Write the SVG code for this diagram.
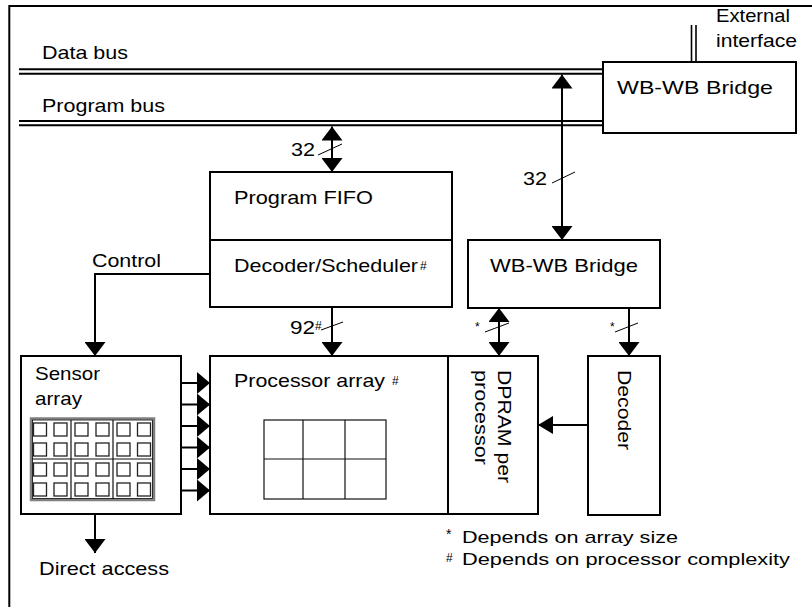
<svg xmlns="http://www.w3.org/2000/svg" width="812" height="607" viewBox="0 0 812 607">
  <defs>
    <style>
      .box { fill: #fff; stroke: #000; stroke-width: 2; }
      .bus { fill: none; stroke: #000; stroke-width: 2; }
      .wire { fill: none; stroke: #000; stroke-width: 2; }
      .slash { fill: none; stroke: #000; stroke-width: 1; }
      .thin { fill: none; stroke: #111; stroke-width: 1.2; }
      .cell { fill: #fff; stroke: #222; stroke-width: 1.3; }
      text { font-family: "Liberation Sans", Arial, sans-serif; fill: #000; }
      .lbl { font-size: 19px; }
      .foot { font-size: 17px; }
      .sup { font-size: 12px; }
    </style>
    <marker id="arr" viewBox="0 0 14 21" refX="14" refY="10.5" markerWidth="14" markerHeight="21" markerUnits="userSpaceOnUse" orient="auto-start-reverse">
      <path d="M0,0 L14,10.5 L0,21 Z" fill="#000"/>
    </marker>
    <marker id="arrS" viewBox="0 0 13 22" refX="13" refY="11" markerWidth="13" markerHeight="22" markerUnits="userSpaceOnUse" orient="auto">
      <path d="M0,0 L13,11 L0,22 Z" fill="#000"/>
    </marker>
    <marker id="arrH" viewBox="0 0 15 18" refX="15" refY="9" markerWidth="15" markerHeight="18" markerUnits="userSpaceOnUse" orient="auto">
      <path d="M0,0 L15,9 L0,18 Z" fill="#000"/>
    </marker>
  </defs>

  <!-- outer frame (open to the right and bottom) -->
  <path d="M9.3,607 V6 H812" fill="none" stroke="#000" stroke-width="2"/>

  <!-- buses -->
  <g id="buses">
    <line class="bus" x1="19" y1="69.3" x2="603" y2="69.3"/>
    <line class="bus" x1="19" y1="73.7" x2="603" y2="73.7"/>
    <line class="bus" x1="19" y1="121" x2="603" y2="121"/>
    <line class="bus" x1="19" y1="125.3" x2="603" y2="125.3"/>
    <text class="lbl" x="42" y="59" textLength="86" lengthAdjust="spacingAndGlyphs">Data bus</text>
    <text class="lbl" x="42" y="112" textLength="123" lengthAdjust="spacingAndGlyphs">Program bus</text>
  </g>

  <!-- external interface -->
  <g id="external">
    <line x1="691.5" y1="25" x2="691.5" y2="62" stroke="#000" stroke-width="1.6"/>
    <line x1="696" y1="25" x2="696" y2="62" stroke="#000" stroke-width="1.6"/>
    <text class="lbl" x="716" y="22" textLength="74" lengthAdjust="spacingAndGlyphs">External</text>
    <text class="lbl" x="716" y="47" textLength="81" lengthAdjust="spacingAndGlyphs">interface</text>
  </g>

  <g id="bridge-top">
    <rect class="box" x="603" y="62" width="193" height="71"/>
    <text class="lbl" x="617" y="94" textLength="156" lengthAdjust="spacingAndGlyphs">WB-WB Bridge</text>
  </g>

  <g id="program-fifo">
    <rect class="box" x="210" y="172" width="242" height="135"/>
    <line x1="210" y1="240" x2="452" y2="240" stroke="#000" stroke-width="2"/>
    <text class="lbl" x="234" y="204" textLength="139" lengthAdjust="spacingAndGlyphs">Program FIFO</text>
    <text class="lbl" x="234" y="272" textLength="184" lengthAdjust="spacingAndGlyphs">Decoder/Scheduler</text>
    <text class="sup" x="420" y="270">#</text>
  </g>

  <g id="bridge-low">
    <rect class="box" x="468" y="240" width="192" height="68"/>
    <text class="lbl" x="490" y="272" textLength="148" lengthAdjust="spacingAndGlyphs">WB-WB Bridge</text>
  </g>

  <g id="sensor-array">
    <rect class="box" x="21" y="356" width="160" height="158"/>
    <text class="lbl" x="35" y="380" textLength="65" lengthAdjust="spacingAndGlyphs">Sensor</text>
    <text class="lbl" x="35" y="405" textLength="47" lengthAdjust="spacingAndGlyphs">array</text>
    <rect x="31" y="418.5" width="123" height="81.5" fill="#fff" stroke="#808080" stroke-width="2.5"/>
    <rect x="32.5" y="420" width="120" height="78.5" fill="none" stroke="#000" stroke-width="0.8"/>
    <line class="thin" x1="71" y1="420" x2="71" y2="499"/>
    <line class="thin" x1="113" y1="420" x2="113" y2="499"/>
    <line class="thin" x1="32" y1="459" x2="153" y2="459"/>
    <g id="pixels">
      <rect class="cell" x="33.5" y="423" width="13" height="13"/>
      <rect class="cell" x="54" y="423" width="13" height="13"/>
      <rect class="cell" x="75" y="423" width="13" height="13"/>
      <rect class="cell" x="96" y="423" width="13" height="13"/>
      <rect class="cell" x="117" y="423" width="13" height="13"/>
      <rect class="cell" x="137.5" y="423" width="13" height="13"/>
      <rect class="cell" x="33.5" y="443" width="13" height="13"/>
      <rect class="cell" x="54" y="443" width="13" height="13"/>
      <rect class="cell" x="75" y="443" width="13" height="13"/>
      <rect class="cell" x="96" y="443" width="13" height="13"/>
      <rect class="cell" x="117" y="443" width="13" height="13"/>
      <rect class="cell" x="137.5" y="443" width="13" height="13"/>
      <rect class="cell" x="33.5" y="463" width="13" height="13"/>
      <rect class="cell" x="54" y="463" width="13" height="13"/>
      <rect class="cell" x="75" y="463" width="13" height="13"/>
      <rect class="cell" x="96" y="463" width="13" height="13"/>
      <rect class="cell" x="117" y="463" width="13" height="13"/>
      <rect class="cell" x="137.5" y="463" width="13" height="13"/>
      <rect class="cell" x="33.5" y="483" width="13" height="13"/>
      <rect class="cell" x="54" y="483" width="13" height="13"/>
      <rect class="cell" x="75" y="483" width="13" height="13"/>
      <rect class="cell" x="96" y="483" width="13" height="13"/>
      <rect class="cell" x="117" y="483" width="13" height="13"/>
      <rect class="cell" x="137.5" y="483" width="13" height="13"/>
    </g>
  </g>

  <g id="processor-array">
    <rect class="box" x="210" y="356" width="238" height="158"/>
    <text class="lbl" x="234" y="387" textLength="151" lengthAdjust="spacingAndGlyphs">Processor array</text>
    <text class="sup" x="392" y="385">#</text>
    <rect class="thin" x="264" y="420" width="122" height="79"/>
    <line class="thin" x1="303" y1="420" x2="303" y2="499"/>
    <line class="thin" x1="345" y1="420" x2="345" y2="499"/>
    <line class="thin" x1="264" y1="459" x2="386" y2="459"/>
  </g>

  <g id="dpram">
    <rect class="box" x="448" y="356" width="90" height="158"/>
    <text class="lbl" transform="translate(498,370) rotate(90)" textLength="113" lengthAdjust="spacingAndGlyphs">DPRAM per</text>
    <text class="lbl" transform="translate(475,370) rotate(90)" textLength="95" lengthAdjust="spacingAndGlyphs">processor</text>
  </g>

  <g id="decoder">
    <rect class="box" x="588" y="356" width="72" height="159"/>
    <text class="lbl" transform="translate(618,370) rotate(90)" textLength="80" lengthAdjust="spacingAndGlyphs">Decoder</text>
  </g>

  <!-- connectors -->
  <g id="connectors">
    <line class="wire" x1="332" y1="126.5" x2="332" y2="172" marker-start="url(#arr)" marker-end="url(#arr)"/>
    <line class="slash" x1="318" y1="155" x2="342" y2="144"/>
    <text class="lbl" x="291" y="156" textLength="24" lengthAdjust="spacingAndGlyphs">32</text>

    <line class="wire" x1="562" y1="74.5" x2="562" y2="240" marker-start="url(#arr)" marker-end="url(#arr)"/>
    <line class="slash" x1="552" y1="183" x2="575" y2="172"/>
    <text class="lbl" x="523" y="185" textLength="24" lengthAdjust="spacingAndGlyphs">32</text>

    <polyline class="wire" points="210,274 95,274 95,356" marker-end="url(#arr)"/>
    <text class="lbl" x="92" y="267" textLength="69" lengthAdjust="spacingAndGlyphs">Control</text>

    <line class="wire" x1="332" y1="307" x2="332" y2="356" marker-end="url(#arr)"/>
    <line class="slash" x1="321" y1="330" x2="343" y2="322"/>
    <text class="lbl" x="290" y="334" textLength="25" lengthAdjust="spacingAndGlyphs">92</text>
    <text class="sup" x="315" y="330">#</text>

    <line class="wire" x1="499" y1="308" x2="499" y2="356" marker-start="url(#arr)" marker-end="url(#arr)"/>
    <line class="slash" x1="485" y1="332" x2="509" y2="323"/>
    <text class="sup" x="475" y="331">*</text>

    <line class="wire" x1="629" y1="308" x2="629" y2="356" marker-end="url(#arr)"/>
    <line class="slash" x1="615" y1="332" x2="638" y2="323"/>
    <text class="sup" x="610" y="331">*</text>

    <line class="wire" x1="588" y1="425" x2="538" y2="425" marker-end="url(#arrH)"/>

    <line class="wire" x1="181" y1="383" x2="210" y2="383" marker-end="url(#arrS)"/>
    <line class="wire" x1="181" y1="404.5" x2="210" y2="404.5" marker-end="url(#arrS)"/>
    <line class="wire" x1="181" y1="426" x2="210" y2="426" marker-end="url(#arrS)"/>
    <line class="wire" x1="181" y1="447.5" x2="210" y2="447.5" marker-end="url(#arrS)"/>
    <line class="wire" x1="181" y1="469" x2="210" y2="469" marker-end="url(#arrS)"/>
    <line class="wire" x1="181" y1="490.5" x2="210" y2="490.5" marker-end="url(#arrS)"/>

    <line class="wire" x1="95" y1="514" x2="95" y2="553" marker-end="url(#arr)"/>
    <text class="lbl" x="39" y="575" textLength="130" lengthAdjust="spacingAndGlyphs">Direct access</text>
  </g>

  <!-- notes -->
  <g id="notes">
    <text x="446" y="539" font-size="14">*</text>
    <text class="foot" x="462" y="543" textLength="216" lengthAdjust="spacingAndGlyphs">Depends on array size</text>
    <text x="446" y="562" font-size="12">#</text>
    <text class="foot" x="462" y="565" textLength="328" lengthAdjust="spacingAndGlyphs">Depends on processor complexity</text>
  </g>
</svg>
